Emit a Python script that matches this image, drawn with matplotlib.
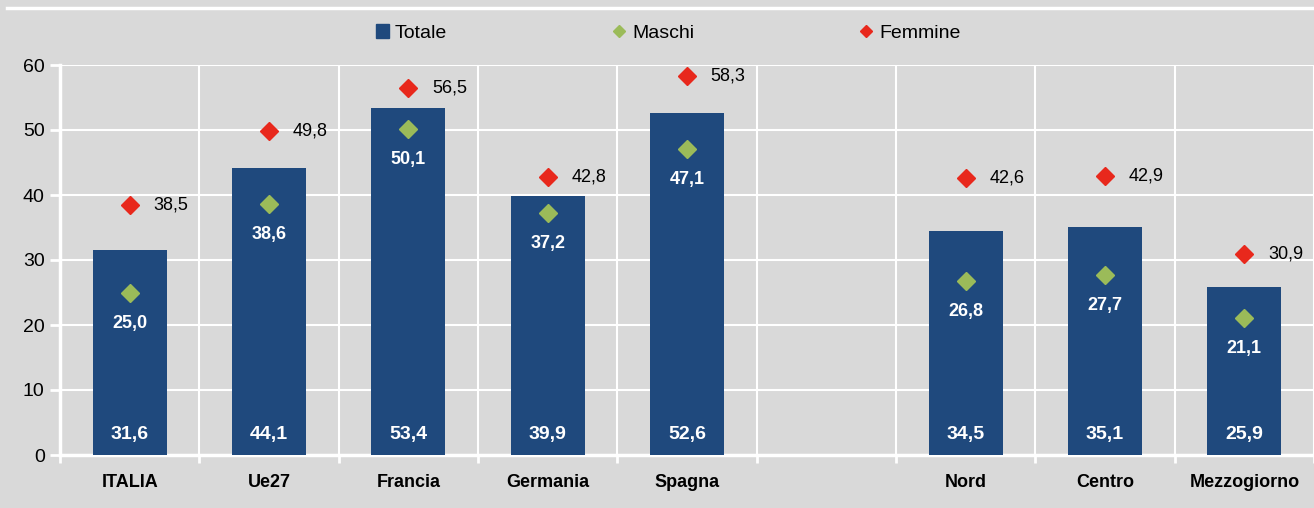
import numpy as np
import matplotlib
matplotlib.use("Agg")
import matplotlib.pyplot as plt
from matplotlib.lines import Line2D
from matplotlib.patches import Patch

categories = ["ITALIA", "Ue27", "Francia", "Germania", "Spagna", "", "Nord", "Centro", "Mezzogiorno"]
totale = [31.6, 44.1, 53.4, 39.9, 52.6, None, 34.5, 35.1, 25.9]
maschi = [25.0, 38.6, 50.1, 37.2, 47.1, None, 26.8, 27.7, 21.1]
femmine = [38.5, 49.8, 56.5, 42.8, 58.3, None, 42.6, 42.9, 30.9]

BG = "#d9d9d9"
BLUE = "#1f497d"
GREEN = "#9bbb59"
RED = "#e8281c"

plt.rcParams["font.family"] = ["Liberation Sans Narrow", "Liberation Sans", "DejaVu Sans"]


def fmt(v):
    return f"{v:.1f}".replace(".", ",")


fig = plt.figure(figsize=(13.14, 5.08), dpi=100, facecolor=BG)
ax = fig.add_axes([60 / 1314, 1 - 455 / 508, 1 - 60 / 1314, 390 / 508])
ax.set_facecolor(BG)

x = np.arange(len(categories))
idx = [i for i, v in enumerate(totale) if v is not None]
tot = np.array([totale[i] for i in idx])
mas = np.array([maschi[i] for i in idx])
fem = np.array([femmine[i] for i in idx])
xi = x[idx]

ax.bar(xi, tot, width=0.53, color=BLUE, zorder=3)
ax.plot(xi, mas, ls="none", marker="D", ms=9, color=GREEN, zorder=4)
ax.plot(xi, fem, ls="none", marker="D", ms=9, color=RED, zorder=4)

for xx, t, m, f in zip(xi, tot, mas, fem):
    ax.text(xx, 3.1, fmt(t), ha="center", va="center", color="white",
            fontsize=14, fontweight="bold", zorder=5)
    ax.text(xx, m - 4.7, fmt(m), ha="center", va="center", color="white",
            fontsize=13, fontweight="bold", zorder=5)
    ax.text(xx + 0.17, f, fmt(f), ha="left", va="center", color="black",
            fontsize=13, zorder=5)

ax.set_xlim(-0.5, len(categories) - 0.5)
ax.set_ylim(0, 60)
ax.set_yticks(np.arange(0, 61, 10))
ax.set_xticks(x)
ax.set_xticklabels(categories, fontsize=13, fontweight="bold")
ax.set_xticks(np.arange(-0.5, len(categories), 1), minor=True)
ax.tick_params(axis="x", which="major", length=0, pad=14)
ax.tick_params(axis="x", which="minor", length=6, width=2, color="white")
ax.tick_params(axis="y", length=7, width=2, color="white", labelsize=14, pad=4)

ax.grid(axis="y", color="white", lw=1.5, zorder=0)
ax.grid(axis="x", which="minor", color="white", lw=1.5, zorder=0)
for s in ["top", "right"]:
    ax.spines[s].set_visible(False)
for s in ["left", "bottom"]:
    ax.spines[s].set_color("white")
    ax.spines[s].set_linewidth(2.5)

fig.add_artist(Line2D([7 / 1314, 1], [1 - 8 / 508, 1 - 8 / 508], color="white", lw=2.5))

handles = [
    Patch(color=BLUE, label="Totale"),
    Line2D([], [], ls="none", marker="D", ms=6, color=GREEN, label="Maschi"),
    Line2D([], [], ls="none", marker="D", ms=6, color=RED, label="Femmine"),
]
fig.legend(handles=handles, loc="center", bbox_to_anchor=(668 / 1314, 1 - 33 / 508),
           ncol=3, frameon=False, fontsize=14, columnspacing=8.5,
           handlelength=0.7, handletextpad=0.3)

fig.savefig("out.png", dpi=100, facecolor=BG)
